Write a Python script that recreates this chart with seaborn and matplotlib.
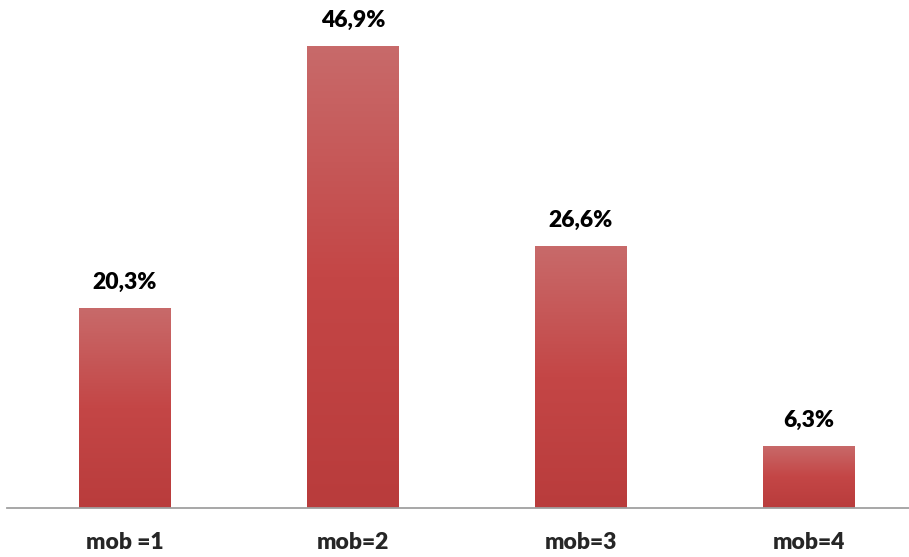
import numpy as np
import pandas as pd
import matplotlib
matplotlib.use("Agg")
import matplotlib.pyplot as plt
import seaborn as sns
from matplotlib.colors import LinearSegmentedColormap

# data
categories = ["mob =1", "mob=2", "mob=3", "mob=4"]
values = [20.3, 46.9, 26.6, 6.3]
labels = ["20,3%", "46,9%", "26,6%", "6,3%"]

sns.set_style("white")
plt.rcParams["font.family"] = ["Lato", "DejaVu Sans"]

df = pd.DataFrame({"cat": categories, "val": values})

fig = plt.figure(figsize=(9.09, 5.57), dpi=100)
ax = fig.add_axes([7 / 909, 49 / 557, 902 / 909, 508 / 557])

sns.barplot(data=df, x="cat", y="val", color="#C04848", width=0.40, ax=ax, saturation=1)

# vertical gradient on each bar (lighter at top)
cmap = LinearSegmentedColormap.from_list("bar", ["#B93C3C", "#C44646", "#C86A6A"])
grad = np.linspace(0, 1, 256).reshape(-1, 1)
for p in ax.patches:
    x0, y0 = p.get_x(), p.get_y()
    w, h = p.get_width(), p.get_height()
    im = ax.imshow(grad, cmap=cmap, origin="lower", aspect="auto",
                   extent=[x0, x0 + w, y0, y0 + h], zorder=p.get_zorder() + 0.1)
    im.set_clip_path(p)

for p, lab in zip(ax.patches, labels):
    ax.annotate(lab, (p.get_x() + p.get_width() / 2, p.get_height()),
                xytext=(0, 11), textcoords="offset points",
                ha="center", va="bottom", fontsize=16.5, fontweight="heavy", color="black")

ax.set_xlim(-0.518, 3.44)
ax.set_ylim(0, 51.6)
ax.set_xlabel("")
ax.set_ylabel("")
ax.set_yticks([])
ax.tick_params(axis="x", length=0, pad=17, labelsize=16.5)
for t in ax.get_xticklabels():
    t.set_fontweight("heavy")
for s in ["top", "right", "left"]:
    ax.spines[s].set_visible(False)
ax.spines["bottom"].set_color("#A0A0A0")
ax.spines["bottom"].set_linewidth(1.3)
ax.patch.set_alpha(0)

fig.savefig("out.png", dpi=100)
